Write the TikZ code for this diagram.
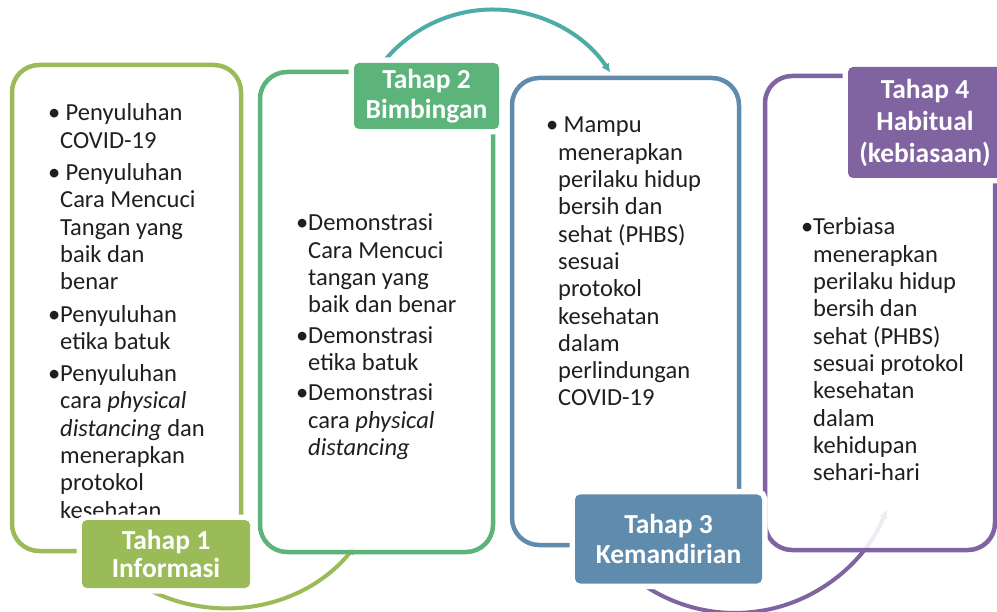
\documentclass[tikz,border=0pt]{standalone}
\usepackage{fontspec}
\setmainfont{Carlito}
\usetikzlibrary{arrows.meta}
\definecolor{cA}{HTML}{9BBB59}
\definecolor{cB}{HTML}{5CB47B}
\definecolor{cC}{HTML}{5F8BAC}
\definecolor{cD}{HTML}{8064A2}
\definecolor{cT}{HTML}{4DADA6}
\definecolor{txt}{HTML}{1F1F1F}
\begin{document}
\begin{tikzpicture}[x=1pt,y=-1pt,
  boxline/.style={draw=#1, line width=4.5pt, rounded corners=27pt, fill=white, fill opacity=0.88},
  arcline/.style={draw=#1, line width=4pt, -{Latex[length=9pt,width=9pt]}},
  stagelabel/.style={fill=#1, rounded corners=5pt, text=white, align=center, inner sep=0pt,
    font=\fontsize{27.5}{30}\selectfont\bfseries, preaction={draw=white, line width=11pt}},
  bodytext/.style={anchor=base west, inner sep=0pt, text=txt, font=\fontsize{24.5}{27.3}\selectfont}
]
\fill[white] (0,0) rectangle (997,612);
\useasboundingbox (0,0) rectangle (997,612);

% connecting arcs
\coordinate (a1s) at (136,582.5);
\coordinate (a2s) at (377.9,69.4);
\coordinate (a3s) at (634.6,578.4);
\draw[arcline=cA] (a1s) arc[start angle=-122, end angle=-39, radius=168pt];
\draw[arcline=cT] (a2s) arc[start angle=145, end angle=33.4, radius=140.5pt];
\draw[arcline=cD] (a3s) arc[start angle=-128, end angle=-21.4, radius=163pt];

% boxes
\draw[boxline=cA] (12,65) rectangle (241,551);
\draw[boxline=cB] (260,72) rectangle (493,552);
\draw[boxline=cC] (512,78) rectangle (739,545);
\draw[boxline=cD] (765,76) rectangle (995,550);

% texts
\node[bodytext] (x1) at (48,121) {\begin{tabular}[t]{@{}p{12pt}@{}l@{}}
\textbullet & \ Penyuluhan\\
 & COVID-19\\[5pt]
\textbullet & \ Penyuluhan\\
 & Cara Mencuci\\
 & Tangan yang\\
 & baik dan\\
 & benar\\[5pt]
\textbullet & Penyuluhan\\
 & etika batuk\\[5pt]
\textbullet & Penyuluhan\\
 & cara \textit{physical}\\
 & \textit{distancing} dan\\
 & menerapkan\\
 & protokol\\
 & kesehatan
\end{tabular}};

\node[bodytext] (x2) at (296,231) {\begin{tabular}[t]{@{}p{12pt}@{}l@{}}
\textbullet & Demonstrasi\\
 & Cara Mencuci\\
 & tangan yang\\
 & baik dan benar\\[3pt]
\textbullet & Demonstrasi\\
 & etika batuk\\[3pt]
\textbullet & Demonstrasi\\
 & cara \textit{physical}\\
 & \textit{distancing}
\end{tabular}};

\node[bodytext] (x3) at (546,133) {\begin{tabular}[t]{@{}p{12pt}@{}l@{}}
\textbullet & \ Mampu\\
 & menerapkan\\
 & perilaku hidup\\
 & bersih dan\\
 & sehat (PHBS)\\
 & sesuai\\
 & protokol\\
 & kesehatan\\
 & dalam\\
 & perlindungan\\
 & COVID-19
\end{tabular}};

\node[bodytext] (x4) at (801,235) {\begin{tabular}[t]{@{}p{12pt}@{}l@{}}
\textbullet & Terbiasa\\
 & menerapkan\\
 & perilaku hidup\\
 & bersih dan\\
 & sehat (PHBS)\\
 & sesuai protokol\\
 & kesehatan\\
 & dalam\\
 & kehidupan\\
 & sehari-hari
\end{tabular}};

% stage labels
\node[stagelabel=cA, minimum width=168pt, minimum height=68pt,
  font=\fontsize{27.5}{28}\selectfont\bfseries] (t1) at (166,554) {Tahap 1\\Informasi};
\node[stagelabel=cB, minimum width=145pt, minimum height=66pt] (t2) at (426.5,96) {Tahap 2\\Bimbingan};
\node[stagelabel=cC, minimum width=187pt, minimum height=89pt] (t3) at (668.5,539) {Tahap 3\\Kemandirian};
\node[stagelabel=cD, minimum width=154pt, minimum height=111pt,
  font=\fontsize{27.5}{32}\selectfont\bfseries] (t4) at (925,122.5) {Tahap 4\\Habitual\\(kebiasaan)};
\end{tikzpicture}
\end{document}
